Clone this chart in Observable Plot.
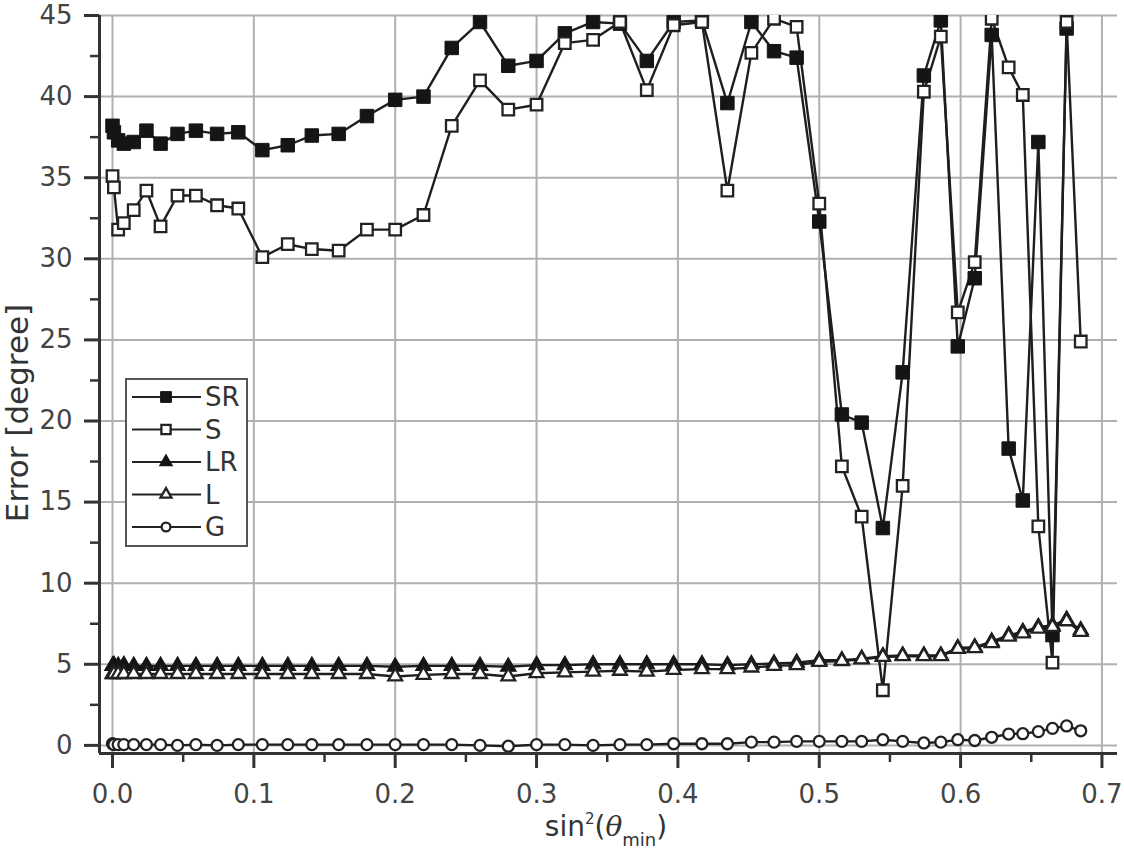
<!DOCTYPE html>
<html>
<head>
<meta charset="utf-8">
<script src="https://cdn.jsdelivr.net/npm/d3@7"></script>
<script src="https://cdn.jsdelivr.net/npm/@observablehq/plot@0.6"></script>
<style>
  html, body { margin: 0; padding: 0; background: #fff; }
  #chart svg { display: block; }
</style>
</head>
<body>
<div id="chart"></div>
<script>
// sin^2(theta_min) values shared by all series
const xVals = [0.000, 0.001, 0.004, 0.008, 0.015, 0.024, 0.034, 0.046, 0.059, 0.074,
               0.089, 0.106, 0.124, 0.141, 0.160, 0.180, 0.200, 0.220, 0.240, 0.260,
               0.280, 0.300, 0.320, 0.340, 0.359, 0.378, 0.397, 0.417, 0.435, 0.452,
               0.468, 0.484, 0.500, 0.516, 0.530, 0.545, 0.559, 0.574, 0.586, 0.598,
               0.610, 0.622, 0.634, 0.644, 0.655, 0.665, 0.675, 0.685];
const SR = [38.2, 37.8, 37.3, 37.1, 37.2, 37.9, 37.1, 37.7, 37.9, 37.7,
            37.8, 36.7, 37.0, 37.6, 37.7, 38.8, 39.8, 40.0, 43.0, 44.6,
            41.9, 42.2, 43.9, 44.6, 44.5, 42.2, 44.6, 44.7, 39.6, 44.6,
            42.8, 42.4, 32.3, 20.4, 19.9, 13.4, 23.0, 41.3, 44.7, 24.6,
            28.8, 43.8, 18.3, 15.1, 37.2, 6.8, 44.2, null];
const S  = [35.1, 34.4, 31.8, 32.2, 33.0, 34.2, 32.0, 33.9, 33.9, 33.3,
            33.1, 30.1, 30.9, 30.6, 30.5, 31.8, 31.8, 32.7, 38.2, 41.0,
            39.2, 39.5, 43.3, 43.5, 44.6, 40.4, 44.4, 44.6, 34.2, 42.7,
            44.8, 44.3, 33.4, 17.2, 14.1, 3.4, 16.0, 40.3, 43.7, 26.7,
            29.8, 44.8, 41.8, 40.1, 13.5, 5.1, 44.6, 24.9];
const LR = [4.9, 4.95, 4.9, 4.95, 4.9, 4.9, 4.9, 4.9, 4.9, 4.9,
            4.9, 4.9, 4.9, 4.9, 4.9, 4.9, 4.85, 4.9, 4.9, 4.9,
            4.85, 4.95, 4.95, 5.0, 5.0, 5.0, 5.0, 5.0, 4.95, 5.0,
            5.05, 5.1, 5.25, 5.25, 5.35, 5.5, 5.55, 5.55, 5.55, 6.0,
            6.05, 6.4, 6.8, 7.0, 7.3, 7.4, 7.75, 7.1];
const L  = [4.4, 4.4, 4.4, 4.4, 4.4, 4.4, 4.4, 4.4, 4.4, 4.4,
            4.4, 4.4, 4.4, 4.4, 4.4, 4.4, 4.25, 4.35, 4.4, 4.4,
            4.25, 4.45, 4.5, 4.55, 4.6, 4.55, 4.65, 4.7, 4.7, 4.8,
            4.9, 4.95, 5.15, 5.2, 5.3, 5.45, 5.5, 5.5, 5.5, 5.95,
            6.0, 6.3, 6.7, 6.9, 7.2, 7.3, 7.65, 7.0];
const G  = [0.1, 0.05, 0.05, 0.05, 0.05, 0.05, 0.05, 0.0, 0.05, 0.0,
            0.05, 0.05, 0.05, 0.05, 0.05, 0.05, 0.05, 0.05, 0.05, 0.0,
            -0.05, 0.05, 0.05, 0.0, 0.05, 0.05, 0.1, 0.1, 0.1, 0.2,
            0.2, 0.25, 0.25, 0.25, 0.25, 0.35, 0.25, 0.15, 0.2, 0.35,
            0.3, 0.5, 0.7, 0.72, 0.85, 1.05, 1.2, 0.9];

const seriesNames = ["SR", "S", "LR", "L", "G"];
const xTicks = [0.0, 0.1, 0.2, 0.3, 0.4, 0.5, 0.6, 0.7];
const xMinorTicks = [0.05, 0.15, 0.25, 0.35, 0.45, 0.55, 0.65];
const yTicks = [0, 5, 10, 15, 20, 25, 30, 35, 40, 45];
const yMinorTicks = [2.5, 7.5, 12.5, 17.5, 22.5, 27.5, 32.5, 37.5, 42.5];
const xDomain = [-0.0092, 0.711];
const yDomain = [-0.5, 45];

// styles per series
const styles = {
  SR: {symbol: "square",   r: 7.6, fill: "#151515", stroke: "#151515", strokeWidth: 1},
  S:  {symbol: "square",   r: 6.5, fill: "#ffffff", stroke: "#222",    strokeWidth: 2.3},
  LR: {symbol: "triangle", r: 5.8, fill: "#151515", stroke: "#151515", strokeWidth: 1.2},
  L:  {symbol: "triangle", r: 5.1, fill: "#ffffff", stroke: "#222",    strokeWidth: 2.3},
  G:  {symbol: "circle",   r: 5.5, fill: "#ffffff", stroke: "#222",    strokeWidth: 2.3}
};
const valuesBy = {SR, S, LR, L, G};

const rows = name => xVals.map((x, i) => ({x, y: valuesBy[name][i]})).filter(d => d.y != null);

const marks = [
  Plot.gridX(xTicks, {stroke: "#b0b0b0", strokeOpacity: 1, strokeWidth: 2}),
  Plot.gridY(yTicks, {stroke: "#b0b0b0", strokeOpacity: 1, strokeWidth: 2}),
];
for (const name of seriesNames) {
  marks.push(Plot.line(rows(name), {x: "x", y: "y", stroke: "#1e1e1e", strokeWidth: 2.4, clip: true}));
}
for (const name of seriesNames) {
  const st = styles[name];
  marks.push(Plot.dot(rows(name), {x: "x", y: "y", symbol: st.symbol, r: st.r, fill: st.fill,
    stroke: st.stroke, strokeWidth: st.strokeWidth, clip: true}));
}
marks.push(
  Plot.ruleX([xDomain[0]], {stroke: "#333", strokeWidth: 3}),
  Plot.ruleY([yDomain[0]], {stroke: "#333", strokeWidth: 3}),
  Plot.axisY({ticks: yTicks, anchor: "left", tickSize: 15, tickPadding: 12, fontSize: 26,
    stroke: "#333", strokeWidth: 3, fill: "#444", label: null, tickFormat: d3.format("d")}),
  Plot.axisY({ticks: yMinorTicks, anchor: "left", tickSize: 9, tickPadding: 0,
    stroke: "#333", strokeWidth: 2.5, label: null, tickFormat: () => ""}),
  Plot.axisX({ticks: xTicks, anchor: "bottom", tickSize: 15, tickPadding: 16, fontSize: 26,
    stroke: "#333", strokeWidth: 3, fill: "#444", label: null, tickFormat: d3.format(".1f")}),
  Plot.axisX({ticks: xMinorTicks, anchor: "bottom", tickSize: 9, tickPadding: 0,
    stroke: "#333", strokeWidth: 2.5, label: null, tickFormat: () => ""})
);

const chart = Plot.plot({
  width: 1124,
  height: 849,
  marginLeft: 99,
  marginRight: 7,
  marginTop: 15,
  marginBottom: 96,
  style: {fontFamily: "DejaVu Sans", background: "#fff", overflow: "visible"},
  x: {domain: xDomain, axis: null},
  y: {domain: yDomain, axis: null},
  marks
});

document.getElementById("chart").appendChild(chart);

// Axis titles
const svg = d3.select(chart);
svg.append("text")
  .attr("transform", "translate(28,413) rotate(-90)")
  .attr("text-anchor", "middle")
  .attr("font-family", "DejaVu Sans")
  .attr("font-size", 31)
  .attr("fill", "#333")
  .text("Error [degree]");

const xt = svg.append("text")
  .attr("x", 606).attr("y", 836)
  .attr("text-anchor", "middle")
  .attr("font-family", "DejaVu Sans")
  .attr("font-size", 28)
  .attr("fill", "#333");
xt.append("tspan").text("sin");
xt.append("tspan").attr("dy", -12).attr("font-size", 15).text("2");
xt.append("tspan").attr("dy", 12).text("(");
xt.append("tspan").attr("font-style", "italic").attr("font-family", "DejaVu Serif").text("θ");
xt.append("tspan").attr("dy", 10).attr("font-size", 18).text("min");
xt.append("tspan").attr("dy", -10).text(")");

// Legend
const lg = svg.append("g").attr("text-anchor", "start");
lg.append("rect").attr("x", 126).attr("y", 379).attr("width", 121).attr("height", 167)
  .attr("fill", "#fff").attr("stroke", "#555").attr("stroke-width", 2);
const symType = {square: d3.symbolSquare, triangle: d3.symbolTriangle, circle: d3.symbolCircle};
seriesNames.forEach((name, i) => {
  const cy = 397 + i * 32.5;
  const st = styles[name];
  lg.append("line").attr("x1", 132).attr("x2", 201).attr("y1", cy).attr("y2", cy)
    .attr("stroke", "#222").attr("stroke-width", 2.2);
  const rr = st.r * 0.8;
  lg.append("path")
    .attr("transform", `translate(166,${cy})`)
    .attr("d", d3.symbol(symType[st.symbol], Math.PI * rr * rr)())
    .attr("fill", st.fill).attr("stroke", st.stroke).attr("stroke-width", st.strokeWidth);
  lg.append("text").attr("x", 205).attr("y", cy + 9)
    .attr("text-anchor", "start")
    .attr("font-family", "DejaVu Sans").attr("font-size", 26).attr("fill", "#333")
    .text(name);
});
</script>
</body>
</html>
